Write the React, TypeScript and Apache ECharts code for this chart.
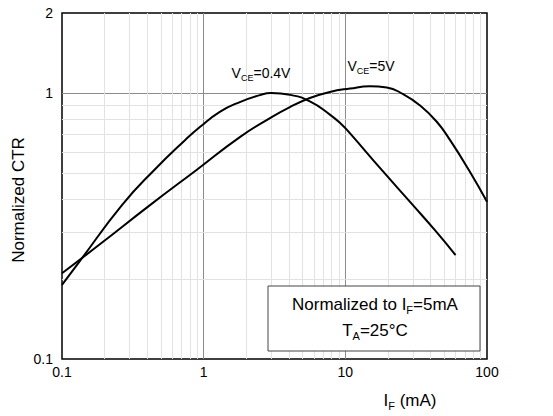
import React, { useEffect, useRef } from "react";
import * as echarts from "echarts";

// Forward current IF (mA) and normalized CTR, VCE = 0.4 V
const ifLow = [0.1, 0.134, 0.265, 0.45, 0.738, 0.94, 1.3, 1.8, 2.49, 3.0, 4.06, 5.62, 7.78, 9.46, 10.8, 18, 30, 42.9, 60];
const ctrLow = [0.19, 0.234, 0.379, 0.515, 0.665, 0.745, 0.85, 0.925, 0.982, 1.0, 0.985, 0.93, 0.83, 0.76, 0.705, 0.515, 0.379, 0.305, 0.246];

// VCE = 5 V
const ifHigh = [0.1, 0.185, 0.418, 0.9, 1.8, 2.94, 4.06, 5.62, 7.78, 10.8, 14.9, 19.6, 25.6, 33.5, 44.2, 54.9, 75, 100];
const ctrHigh = [0.21, 0.27, 0.379, 0.516, 0.683, 0.805, 0.886, 0.958, 1.01, 1.04, 1.06, 1.05, 0.99, 0.9, 0.78, 0.665, 0.51, 0.39];

// axis ranges and grid
const xRange = [0.1, 100];
const yRange = [0.1, 2];
const xMinorGrid = [0.2, 0.3, 0.4, 0.5, 0.6, 0.7, 0.8, 0.9, 2, 3, 4, 5, 6, 7, 8, 9, 20, 30, 40, 50, 60, 70, 80, 90];
const yMinorGrid = [0.2, 0.3, 0.4, 0.5, 0.6, 0.7, 0.8, 0.9];

// curve labels anchor (data coords)
const labelLowPos = [2.54, 1.19];
const labelHighPos = [15.2, 1.26];

const FONT = "'Liberation Sans', Arial, sans-serif";

export default function App() {
  const ref = useRef<HTMLDivElement>(null);
  useEffect(() => {
    if (!ref.current) return;
    const chart = echarts.init(ref.current, undefined, { renderer: "svg" });
    const fmt = (v: number) => String(Number(Number(v).toPrecision(3)));
    const subRich = (size: number) => ({
      n: { fontSize: size, fontFamily: FONT, color: "#000", lineHeight: size + 5 },
      s: { fontSize: Math.round(size * 0.62), fontFamily: FONT, color: "#000", lineHeight: 8, verticalAlign: "bottom" },
    });
    const option: any = {
      animation: false,
      grid: { left: 62, right: 66, top: 13, bottom: 57, show: true, borderColor: "#000", borderWidth: 1.5, backgroundColor: "transparent" },
      xAxis: {
        type: "log",
        logBase: 10,
        min: xRange[0],
        max: xRange[1],
        axisLine: { show: false },
        axisTick: { show: false },
        splitLine: { show: true, showMinLine: false, showMaxLine: false, lineStyle: { color: "#8c8c8c", width: 1 } },
        axisLabel: { fontSize: 14, color: "#000", fontFamily: FONT, margin: 6, formatter: fmt },
      },
      yAxis: {
        type: "log",
        logBase: 10,
        min: yRange[0],
        max: yRange[1],
        axisLine: { show: false },
        axisTick: { show: false },
        splitLine: { show: true, showMinLine: false, showMaxLine: false, lineStyle: { color: "#8c8c8c", width: 1 } },
        axisLabel: { fontSize: 14, color: "#000", fontFamily: FONT, margin: 9, formatter: fmt },
      },
      series: [
        {
          type: "line",
          data: [],
          z: 1,
          silent: true,
          markLine: {
            silent: true,
            symbol: ["none", "none"],
            label: { show: false },
            lineStyle: { color: "#e2e2e2", width: 1, type: "solid" },
            data: [...xMinorGrid.map((v) => ({ xAxis: v })), ...yMinorGrid.map((v) => ({ yAxis: v }))],
          },
        },
        {
          type: "line",
          name: "VCE=0.4V",
          z: 5,
          smooth: 0.5,
          showSymbol: false,
          lineStyle: { color: "#000", width: 2 },
          data: ifLow.map((x, i) => [x, ctrLow[i]]),
          markPoint: {
            symbol: "circle",
            symbolSize: 0,
            data: [{ coord: labelLowPos }],
            label: { show: true, position: "inside", formatter: "{n|V}{s|CE}{n|=0.4V}", rich: subRich(14) },
          },
        },
        {
          type: "line",
          name: "VCE=5V",
          z: 5,
          smooth: 0.5,
          showSymbol: false,
          lineStyle: { color: "#000", width: 2 },
          data: ifHigh.map((x, i) => [x, ctrHigh[i]]),
          markPoint: {
            symbol: "circle",
            symbolSize: 0,
            data: [{ coord: labelHighPos }],
            label: { show: true, position: "inside", formatter: "{n|V}{s|CE}{n|=5V}", rich: subRich(14) },
          },
        },
      ],
      graphic: [
        {
          type: "rect",
          z: 20,
          shape: { x: 268, y: 286, width: 212, height: 65 },
          style: { fill: "#fff", stroke: "#444", lineWidth: 1 },
        },
        {
          type: "text",
          z: 21,
          x: 375,
          y: 304,
          style: { text: "{n|Normalized to I}{s|F}{n|=5mA}", rich: subRich(17), align: "center", verticalAlign: "middle" },
        },
        {
          type: "text",
          z: 21,
          x: 375,
          y: 330,
          style: { text: "{n|T}{s|A}{n|=25°C}", rich: subRich(17), align: "center", verticalAlign: "middle" },
        },
        {
          type: "text",
          z: 21,
          x: 410,
          y: 400,
          style: { text: "{n|I}{s|F}{n| (mA)}", rich: subRich(17), align: "center", verticalAlign: "middle" },
        },
        {
          type: "text",
          z: 21,
          x: 18,
          y: 200,
          rotation: Math.PI / 2,
          style: { text: "Normalized CTR", fontSize: 17, fontFamily: FONT, fill: "#000", align: "center", verticalAlign: "middle" },
        },
      ],
    };
    chart.setOption(option);
    return () => chart.dispose();
  }, []);
  return <div ref={ref} style={{ position: "fixed", left: 0, top: 0, width: 553, height: 416, background: "#fff" }} />;
}
